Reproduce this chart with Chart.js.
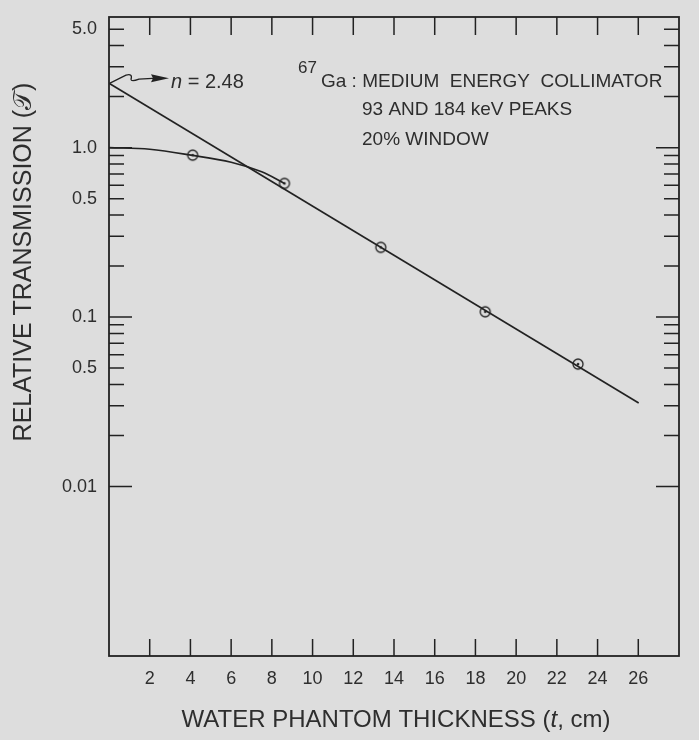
<!DOCTYPE html>
<html>
<head>
<meta charset="utf-8">
<script src="https://cdn.jsdelivr.net/npm/chart.js@4.4.1/dist/chart.umd.min.js"></script>
<style>
  html, body { margin: 0; padding: 0; background: #dddddd; }
  canvas { display: block; }
</style>
</head>
<body>
<canvas id="transmission-chart" width="699" height="740"></canvas>
<script>
// values
const thickness = [4.11, 8.62, 13.35, 18.48, 23.04]
const transmission = [0.903, 0.615, 0.258, 0.1075, 0.0528]
const fitX = [0, 26.02]
const fitY = [2.40, 0.0311]
const curveX = [0, 2, 4.11, 6, 7.5, 8.62]
const curveY = [1.0, 0.978, 0.9, 0.82, 0.72, 0.615]

const xTicks = [2, 4, 6, 8, 10, 12, 14, 16, 18, 20, 22, 24, 26]
const yTicks = [5, 4, 3, 2, 1, 0.9, 0.8, 0.7, 0.6, 0.5, 0.4, 0.3, 0.2, 0.1,
  0.09, 0.08, 0.07, 0.06, 0.05, 0.04, 0.03, 0.02, 0.01]
const yMajor = [1, 0.1, 0.01]
const yLabelValues = [5, 1, 0.5, 0.1, 0.05, 0.01]
const yTickLabels = ['5.0', '1.0', '0.5', '0.1', '0.5', '0.01']

const ink = '#222222'
const textInk = '#2e2e2e'
const bg = '#dddddd'
const family = "'Liberation Sans', Arial, sans-serif"

// open circle with a dot, as in the figure
const marker = document.createElement('canvas')
marker.width = 14
marker.height = 14
const m = marker.getContext('2d')
m.strokeStyle = ink
m.lineWidth = 1.3
m.fillStyle = bg
m.beginPath()
m.arc(7, 7, 5, 0, Math.PI * 2)
m.fill()
m.stroke()
m.fillStyle = ink
m.beginPath()
m.arc(7, 7, 1.3, 0, Math.PI * 2)
m.fill()

const frameTicks = {
  id: 'frameTicks',
  afterDatasetsDraw(chart) {
    const { ctx, chartArea: a, scales: { x, y } } = chart
    ctx.save()
    ctx.strokeStyle = ink
    ctx.lineWidth = 1.5
    ctx.beginPath()
    xTicks.forEach((v) => {
      const px = x.getPixelForValue(v)
      ctx.moveTo(px, a.bottom)
      ctx.lineTo(px, a.bottom - 17)
      ctx.moveTo(px, a.top)
      ctx.lineTo(px, a.top + 18)
    })
    yTicks.forEach((v) => {
      const py = y.getPixelForValue(v)
      const len = yMajor.includes(v) ? 23 : 15
      ctx.moveTo(a.left, py)
      ctx.lineTo(a.left + len, py)
      ctx.moveTo(a.right, py)
      ctx.lineTo(a.right - len, py)
    })
    ctx.stroke()
    ctx.lineWidth = 1.8
    ctx.strokeRect(a.left, a.top, a.right - a.left, a.bottom - a.top)
    ctx.restore()
  },
}

const notes = {
  id: 'notes',
  afterDraw(chart) {
    const { ctx, scales: { x, y } } = chart
    ctx.save()
    ctx.fillStyle = textInk
    ctx.textBaseline = 'alphabetic'

    // arrow from intercept to label
    const x0 = x.getPixelForValue(0)
    const y0 = y.getPixelForValue(fitY[0])
    ctx.strokeStyle = ink
    ctx.lineWidth = 1.3
    ctx.beginPath()
    ctx.moveTo(x0 + 1, y0)
    ctx.lineTo(x0 + 17, y0 - 8)
    ctx.quadraticCurveTo(x0 + 24, y0 - 10, x0 + 22, y0 - 4)
    ctx.quadraticCurveTo(x0 + 22, y0 - 1, x0 + 30, y0 - 4)
    ctx.lineTo(x0 + 48, y0 - 5)
    ctx.stroke()
    ctx.beginPath()
    ctx.moveTo(x0 + 60, y0 - 5)
    ctx.lineTo(x0 + 42, y0 - 9)
    ctx.lineTo(x0 + 44, y0 - 5)
    ctx.lineTo(x0 + 42, y0 - 1)
    ctx.closePath()
    ctx.fillStyle = ink
    ctx.fill()

    ctx.fillStyle = textInk
    ctx.font = 'italic 20px ' + family
    ctx.textAlign = 'left'
    ctx.fillText('n', 171, 88)
    const nw = ctx.measureText('n').width
    ctx.font = '20px ' + family
    ctx.fillText(' = 2.48', 171 + nw, 88)

    ctx.font = '17px ' + family
    ctx.fillText('67', 298, 73)
    ctx.font = '19px ' + family
    ctx.fillText('Ga : MEDIUM  ENERGY  COLLIMATOR', 321, 87)
    ctx.fillText('93 AND 184 keV PEAKS', 362, 115)
    ctx.fillText('20% WINDOW', 362, 145)

    // x axis title with italic t
    ctx.font = '24px ' + family
    const partA = 'WATER PHANTOM THICKNESS ('
    const partC = ', cm)'
    const wa = ctx.measureText(partA).width
    const wc = ctx.measureText(partC).width
    ctx.font = 'italic 24px ' + family
    const wb = ctx.measureText('t').width
    const tx = 396 - (wa + wb + wc) / 2
    ctx.font = '24px ' + family
    ctx.fillText(partA, tx, 727)
    ctx.font = 'italic 24px ' + family
    ctx.fillText('t', tx + wa, 727)
    ctx.font = '24px ' + family
    ctx.fillText(partC, tx + wa + wb, 727)

    // y axis title
    ctx.translate(31, 262)
    ctx.rotate(-Math.PI / 2)
    ctx.textAlign = 'center'
    ctx.font = '25px ' + family
    ctx.fillText('RELATIVE TRANSMISSION (𝒯)', 0, 0)
    ctx.restore()
  },
}

const transmissionChart = new Chart(document.querySelector('#transmission-chart'), {
  type: 'scatter',
  data: {
    datasets: [
      {
        label: 'fit',
        data: fitX.map((v, i) => ({ x: v, y: fitY[i] })),
        showLine: true,
        borderColor: ink,
        borderWidth: 1.7,
        pointRadius: 0,
      },
      {
        label: 'curve',
        data: curveX.map((v, i) => ({ x: v, y: curveY[i] })),
        showLine: true,
        tension: 0.35,
        borderColor: ink,
        borderWidth: 1.7,
        pointRadius: 0,
      },
      {
        label: 'measured',
        data: thickness.map((v, i) => ({ x: v, y: transmission[i] })),
        showLine: false,
        pointStyle: marker,
        pointRadius: 6,
      },
    ],
  },
  options: {
    responsive: false,
    animation: false,
    layout: { padding: { top: 17, right: 20 } },
    plugins: {
      legend: { display: false },
      tooltip: { enabled: false },
    },
    scales: {
      x: {
        type: 'linear',
        min: 0,
        max: 28,
        afterBuildTicks: (scale) => {
          scale.ticks = xTicks.map((v) => ({ value: v }))
        },
        afterFit: (scale) => {
          scale.height = 84
          scale.paddingLeft = 0
          scale.paddingRight = 0
        },
        grid: { display: false, drawTicks: false },
        border: { display: false },
        ticks: {
          color: textInk,
          font: { family: family, size: 18 },
          padding: 12,
          maxRotation: 0,
          autoSkip: false,
        },
      },
      y: {
        type: 'logarithmic',
        min: 0.001,
        max: 5.9,
        afterBuildTicks: (scale) => {
          scale.ticks = yTicks.map((v) => ({ value: v }))
        },
        afterFit: (scale) => {
          scale.width = 109
          scale.paddingTop = 0
          scale.paddingBottom = 0
        },
        grid: { display: false, drawTicks: false },
        border: { display: false },
        ticks: {
          color: textInk,
          font: { family: family, size: 18 },
          padding: 12,
          autoSkip: false,
          callback: (value) => {
            const i = yLabelValues.indexOf(value)
            return i >= 0 ? yTickLabels[i] : ''
          },
        },
      },
    },
  },
  plugins: [frameTicks, notes],
})
</script>
</body>
</html>
